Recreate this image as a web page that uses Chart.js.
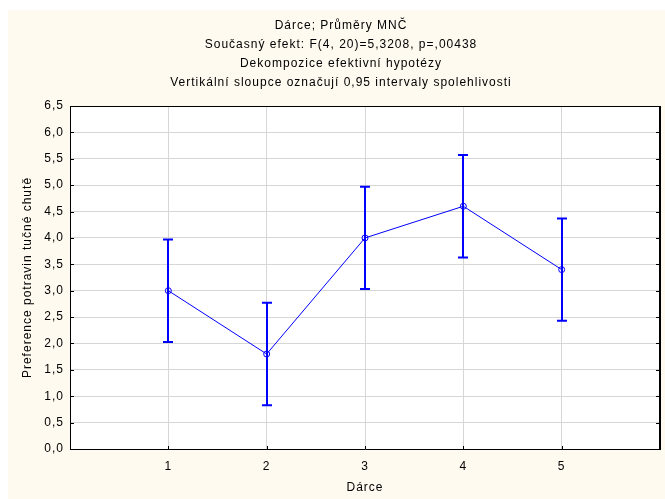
<!DOCTYPE html>
<html>
<head>
<meta charset="utf-8">
<script src="https://cdn.jsdelivr.net/npm/chart.js@4/dist/chart.umd.min.js"></script>
<style>
  html, body { margin: 0; padding: 0; background: #ffffff; }
  #wrap { width: 665px; height: 499px; }
</style>
</head>
<body>
<div id="wrap"><canvas id="myChart"></canvas></div>
<script>
// group means with 0.95 confidence limits
const groups = [1, 2, 3, 4, 5];
const means = [3.0, 1.8, 4.0, 4.6, 3.4];
const lower = [2.03, 0.83, 3.03, 3.63, 2.43];
const upper = [3.97, 2.77, 4.97, 5.57, 4.37];

const titleText = [
  "Dárce; Průměry MNČ",
  "Současný efekt: F(4, 20)=5,3208, p=,00438",
  "Dekompozice efektivní hypotézy",
  "Vertikální sloupce označují 0,95 intervaly spolehlivosti",
];
const xTitle = "Dárce";
const yTitle = "Preference potravin tučné chutě";

const FONT = '"Liberation Sans", Arial, sans-serif';
const BLUE = "#0000ff";
const GRID = "#d6d6d6";

// old-style wide text spacing
const spacing = {
  id: "spacing",
  beforeUpdate(chart) { chart.ctx.letterSpacing = "1px"; },
  beforeDraw(chart) { chart.ctx.letterSpacing = "1px"; },
};

const background = {
  id: "background",
  beforeDraw(chart) {
    const c = chart.ctx;
    const a = chart.chartArea;
    c.save();
    c.fillStyle = "#ffffff";
    c.fillRect(0, 0, chart.width, chart.height);
    c.fillStyle = "#fffaf0";
    c.fillRect(8, 10, chart.width - 8, chart.height - 10);
    c.fillStyle = "#ffffff";
    c.fillRect(a.left, a.top, a.right - a.left, a.bottom - a.top);
    c.restore();
  },
};

const titleBlock = {
  id: "titleBlock",
  afterDraw(chart) {
    const c = chart.ctx;
    c.save();
    c.letterSpacing = "1px";
    c.font = "12px " + FONT;
    c.fillStyle = "#000";
    c.textAlign = "center";
    c.textBaseline = "middle";
    titleText.forEach((t, i) => c.fillText(t, 341, 25.5 + i * 19));
    c.restore();
  },
};

const errorBars = {
  id: "errorBars",
  beforeDatasetsDraw(chart) {
    const c = chart.ctx;
    const xs = chart.scales.x;
    const ys = chart.scales.y;
    c.save();
    c.strokeStyle = BLUE;
    c.lineWidth = 2;
    groups.forEach((g, i) => {
      const x = Math.round(xs.getPixelForValue(g));
      const yl = ys.getPixelForValue(lower[i]);
      const yu = ys.getPixelForValue(upper[i]);
      c.beginPath();
      c.moveTo(x, yl);
      c.lineTo(x, yu);
      c.moveTo(x - 5, yl);
      c.lineTo(x + 5, yl);
      c.moveTo(x - 5, yu);
      c.lineTo(x + 5, yu);
      c.stroke();
    });
    c.restore();
  },
};

// frame on top and right, plus short inward tick marks
const frame = {
  id: "frame",
  afterDatasetsDraw(chart) {
    const c = chart.ctx;
    const a = chart.chartArea;
    const xs = chart.scales.x;
    const ys = chart.scales.y;
    c.save();
    c.strokeStyle = "#000";
    c.lineWidth = 1;
    c.beginPath();
    ys.ticks.forEach(t => {
      const y = Math.round(ys.getPixelForValue(t.value)) + 0.5;
      c.moveTo(a.left, y);
      c.lineTo(a.left + 4, y);
      c.moveTo(a.right, y);
      c.lineTo(a.right - 4, y);
    });
    groups.forEach(g => {
      const x = Math.round(xs.getPixelForValue(g)) + 0.5;
      c.moveTo(x, a.bottom);
      c.lineTo(x, a.bottom - 3);
    });
    c.moveTo(a.left, a.top + 0.5);
    c.lineTo(a.right, a.top + 0.5);
    c.stroke();
    c.lineWidth = 2;
    c.beginPath();
    c.moveTo(a.right, a.top);
    c.lineTo(a.right, a.bottom + 1);
    c.stroke();
    c.restore();
  },
};

Chart.defaults.font.family = FONT;
Chart.defaults.font.size = 12;
Chart.defaults.color = "#000";

const ctx = document.getElementById("myChart");
const myChart = new Chart(ctx, {
  type: "line",
  data: {
    datasets: [
      {
        data: groups.map((g, i) => ({ x: g, y: means[i] })),
        borderColor: BLUE,
        borderWidth: 1,
        pointRadius: 3,
        pointBorderWidth: 1,
        pointBorderColor: BLUE,
        pointBackgroundColor: "rgba(0,0,0,0)",
        tension: 0,
      },
    ],
  },
  options: {
    responsive: true,
    maintainAspectRatio: false,
    animation: false,
    layout: { padding: { left: 8, top: 106, right: 0, bottom: 0 } },
    plugins: {
      legend: { display: false },
      tooltip: { enabled: false },
      title: { display: false },
    },
    scales: {
      x: {
        type: "linear",
        min: 0,
        max: 6,
        afterFit(s) {
          s.height = 50;
          s.paddingRight = 5;
        },
        ticks: {
          stepSize: 1,
          padding: 10,
          callback: v => (v >= 1 && v <= 5 ? String(v) : ""),
        },
        grid: {
          drawTicks: false,
          color: c => (c.tick && c.tick.value >= 1 && c.tick.value <= 5 ? GRID : "rgba(0,0,0,0)"),
        },
        border: { color: "#000", width: 1 },
        title: { display: true, text: xTitle, padding: { top: 4, bottom: 4 } },
      },
      y: {
        min: 0,
        max: 6.5,
        afterFit(s) { s.width = 62; },
        ticks: {
          stepSize: 0.5,
          padding: 6,
          callback: v => v.toFixed(1).replace(".", ","),
        },
        grid: { drawTicks: false, color: GRID },
        border: { color: "#000", width: 1 },
        title: { display: true, text: yTitle, padding: { top: 12, bottom: 4 } },
      },
    },
  },
  plugins: [spacing, background, errorBars, frame, titleBlock],
});
</script>
</body>
</html>
